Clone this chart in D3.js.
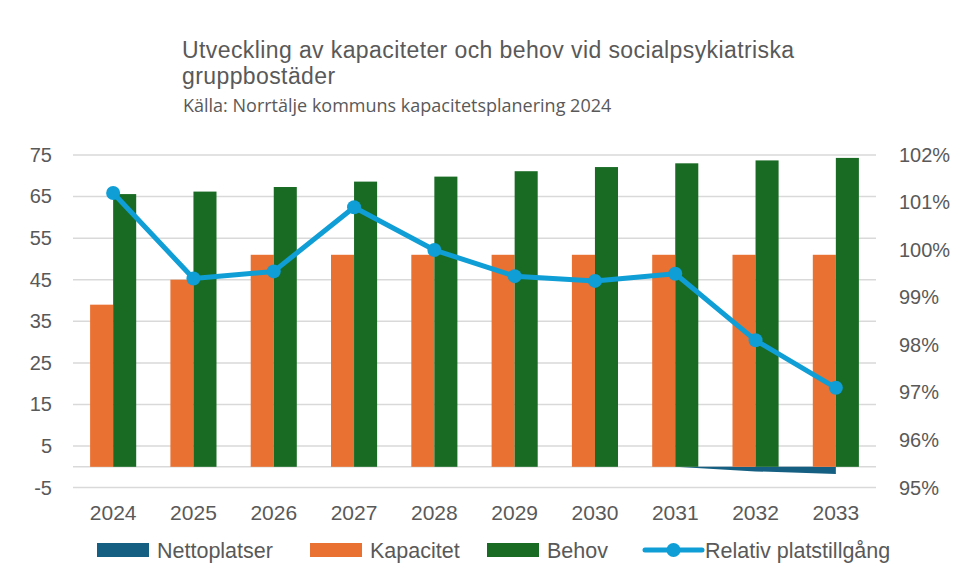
<!DOCTYPE html>
<html lang="sv">
<head>
<meta charset="utf-8">
<script src="https://cdn.jsdelivr.net/npm/d3@7"></script>
<style>
  html, body { margin: 0; padding: 0; background: #ffffff; }
  svg { display: block; }
  text { font-family: "Liberation Sans", Arial, sans-serif; fill: #595959; }
  .subtitle { font-family: "Open Sans", "Liberation Sans", sans-serif; }
</style>
</head>
<body>
<svg id="chart" width="958" height="581"></svg>
<script>
// Kapacitet och behov av platser i socialpsykiatriska gruppbostäder 2024–2033
const years = ["2024", "2025", "2026", "2027", "2028", "2029", "2030", "2031", "2032", "2033"];
const nettoplatser = [0, 0, 0, 0, 0, 0, 0, 0, -1.1, -1.7];
const kapacitet = [39, 45, 51, 51, 51, 51, 51, 51, 51, 51];
const behov = [65.6, 66.2, 67.3, 68.6, 69.8, 71.1, 72.1, 73.0, 73.7, 74.3];
const relativPlatstillgang = [1.012, 0.994, 0.9955, 1.009, 1.000, 0.9945, 0.9935, 0.995, 0.981, 0.971];
const leftTicks = [-5, 5, 15, 25, 35, 45, 55, 65, 75];
const rightTicks = [0.95, 0.96, 0.97, 0.98, 0.99, 1.00, 1.01, 1.02];
const titleLines = ["Utveckling av kapaciteter och behov vid socialpsykiatriska", "gruppbostäder"];
const subtitle = "Källa: Norrtälje kommuns kapacitetsplanering 2024";

const colors = {
  netto: "#156082",
  kapacitet: "#E97132",
  behov: "#196B24",
  relativ: "#0F9ED5",
  grid: "#d9d9d9"
};

const svg = d3.select("#chart");

// Plot area
const plot = { left: 73, right: 876, top: 155, bottom: 487.6 };

const x = d3.scaleBand().domain(years).range([plot.left, plot.right]).padding(0);
const y = d3.scaleLinear().domain([-5, 75]).range([plot.bottom, plot.top]);
const y2 = d3.scaleLinear().domain([0.95, 1.02]).range([plot.bottom, plot.top]);
const barW = x.bandwidth() * 0.287;
const cx = d => x(d) + x.bandwidth() / 2;

// Title (two lines) and source line
svg.append("g").selectAll("text").data(titleLines).join("text")
  .attr("x", 182)
  .attr("y", (d, i) => 58 + i * 26)
  .style("font-size", "23px")
  .style("letter-spacing", "0.4px")
  .text(d => d);
svg.append("text").attr("class", "subtitle")
  .attr("x", 183).attr("y", 112)
  .style("font-size", "18px")
  .text(subtitle);

// Gridlines
const grid = svg.append("g");
grid.selectAll("line").data(leftTicks.concat([0])).join("line")
  .attr("x1", plot.left).attr("x2", plot.right)
  .attr("y1", d => y(d)).attr("y2", d => y(d))
  .attr("stroke", colors.grid).attr("stroke-width", 1.5);

const axisFont = "\"Liberation Sans\", Arial, sans-serif";

// Left axis
const leftAxis = svg.append("g")
  .attr("transform", `translate(${plot.left},0)`)
  .call(d3.axisLeft(y).tickValues(leftTicks).tickSize(0).tickPadding(21).tickFormat(d => String(d)));
leftAxis.select(".domain").remove();
leftAxis.selectAll("text").style("font-size", "20px").style("font-family", axisFont).attr("fill", "#595959");

// Right axis
const rightAxis = svg.append("g")
  .attr("transform", `translate(${plot.right},0)`)
  .call(d3.axisRight(y2).tickValues(rightTicks).tickSize(0).tickPadding(23).tickFormat(d3.format(".0%")));
rightAxis.select(".domain").remove();
rightAxis.selectAll("text").style("font-size", "20px").style("font-family", axisFont).attr("fill", "#595959");

// Category axis
const bottomAxis = svg.append("g")
  .attr("transform", `translate(0,${plot.bottom})`)
  .call(d3.axisBottom(x).tickSize(0).tickPadding(17));
bottomAxis.select(".domain").remove();
bottomAxis.selectAll("text").style("font-size", "21px").style("font-family", axisFont).attr("fill", "#595959");

// Nettoplatser (area)
const area = d3.area()
  .x((d, i) => cx(years[i]))
  .y0(y(0))
  .y1(d => y(d));
svg.append("path").datum(nettoplatser)
  .attr("d", area)
  .attr("fill", colors.netto);

// Kapacitet and Behov bars
svg.append("g").selectAll("rect").data(kapacitet).join("rect")
  .attr("x", (d, i) => cx(years[i]) - barW)
  .attr("width", barW)
  .attr("y", d => y(Math.max(d, 0)))
  .attr("height", d => Math.abs(y(d) - y(0)))
  .attr("fill", colors.kapacitet);

svg.append("g").selectAll("rect").data(behov).join("rect")
  .attr("x", (d, i) => cx(years[i]))
  .attr("width", barW)
  .attr("y", d => y(Math.max(d, 0)))
  .attr("height", d => Math.abs(y(d) - y(0)))
  .attr("fill", colors.behov);

// Relativ platstillgång (line on secondary axis)
const line = d3.line()
  .x((d, i) => cx(years[i]))
  .y(d => y2(d));
svg.append("path").datum(relativPlatstillgang)
  .attr("d", line)
  .attr("fill", "none")
  .attr("stroke", colors.relativ)
  .attr("stroke-width", 5)
  .attr("stroke-linejoin", "round");
svg.append("g").selectAll("circle").data(relativPlatstillgang).join("circle")
  .attr("cx", (d, i) => cx(years[i]))
  .attr("cy", d => y2(d))
  .attr("r", 7)
  .attr("fill", colors.relativ);

// Legend
const legendY = 550;
const legendItems = [
  { label: "Nettoplatser", color: colors.netto, type: "rect", x: 97 },
  { label: "Kapacitet", color: colors.kapacitet, type: "rect", x: 310 },
  { label: "Behov", color: colors.behov, type: "rect", x: 487 },
  { label: "Relativ platstillgång", color: colors.relativ, type: "line", x: 645 }
];
const legend = svg.append("g");
legendItems.forEach(item => {
  const g = legend.append("g");
  if (item.type === "rect") {
    g.append("rect").attr("x", item.x).attr("y", legendY - 7)
      .attr("width", 52).attr("height", 14).attr("fill", item.color);
  } else {
    g.append("line").attr("x1", item.x).attr("x2", item.x + 57)
      .attr("y1", legendY).attr("y2", legendY)
      .attr("stroke", item.color).attr("stroke-width", 5).attr("stroke-linecap", "round");
    g.append("circle").attr("cx", item.x + 28.5).attr("cy", legendY).attr("r", 7).attr("fill", item.color);
  }
  g.append("text")
    .attr("x", item.x + 60)
    .attr("y", legendY + 7.5)
    .style("font-size", "21.5px")
    .text(item.label);
});
</script>
</body>
</html>
